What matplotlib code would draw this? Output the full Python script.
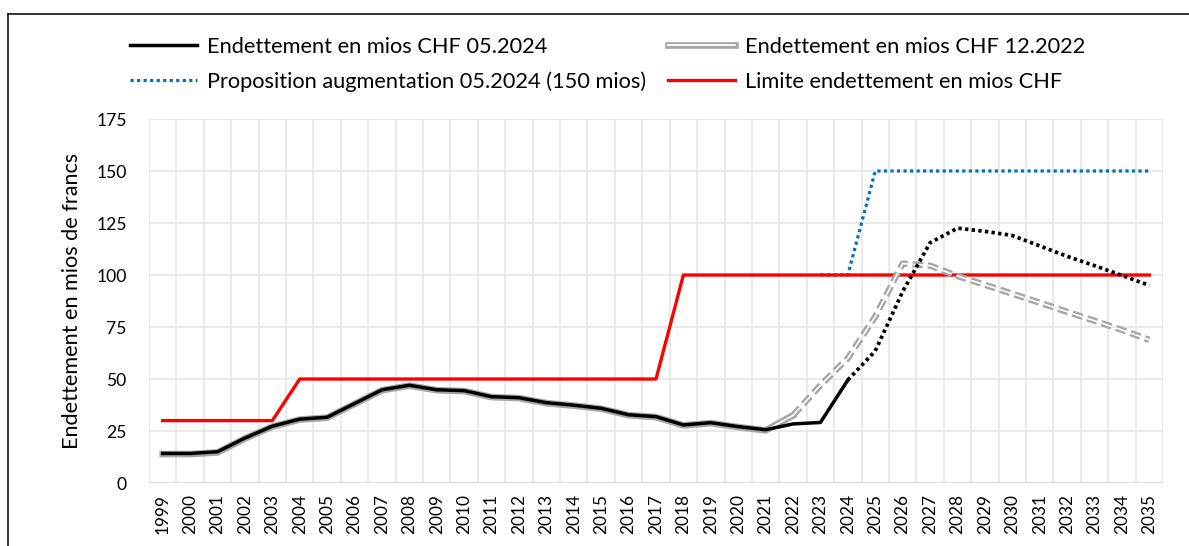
import matplotlib
matplotlib.use("Agg")
import matplotlib.pyplot as plt
from matplotlib.lines import Line2D
import numpy as np

plt.rcParams['font.family'] = ['Lato', 'DejaVu Sans']
plt.rcParams['lines.scale_dashes'] = False

years = list(range(1999, 2036))

# Endettement en mios CHF 05.2024 (actual, 1999-2024)
debt_2024_years = list(range(1999, 2025))
debt_2024 = [14.2, 14.2, 15.0, 21.6, 27.3, 30.7, 31.6, 38.2, 44.8, 47.0, 44.8, 44.4,
             41.5, 41.0, 38.6, 37.4, 35.9, 32.8, 31.9, 27.9, 29.0, 27.1, 25.6, 28.4,
             29.1, 49.5]
# projection 05.2024 (2024-2035)
proj_2024_years = list(range(2024, 2036))
proj_2024 = [49.5, 63.5, 92.0, 115.5, 122.5, 121.0, 119.0, 114.0, 109.0, 104.5, 99.8, 95.0]

# Endettement en mios CHF 12.2022
debt_2022_years = list(range(1999, 2023))
debt_2022 = [13.9, 13.9, 14.7, 21.4, 27.1, 30.5, 31.4, 38.0, 44.6, 46.8, 44.6, 44.2,
             41.3, 40.8, 38.4, 37.2, 35.7, 32.6, 31.7, 27.7, 28.8, 26.9, 25.3, 32.5]
proj_2022_years = list(range(2022, 2036))
proj_2022 = [32.5, 47.0, 60.0, 80.0, 105.5, 104.5, 99.5, 95.3, 91.0, 86.7, 82.3, 78.0, 73.6, 68.8]

# Proposition augmentation 05.2024 (150 mios)
prop_years = list(range(2023, 2036))
prop = [100, 100, 150, 150, 150, 150, 150, 150, 150, 150, 150, 150, 150]

# Limite endettement en mios CHF
limit = [30, 30, 30, 30, 30] + [50] * 14 + [100] * 18

labels = ["Endettement en mios CHF 05.2024",
          "Endettement en mios CHF 12.2022",
          "Proposition augmentation 05.2024 (150 mios)",
          "Limite endettement en mios CHF"]

def pos(ys):
    return [y - 1999 for y in ys]

W, H = 1189, 546
fig = plt.figure(figsize=(W / 100, H / 100), dpi=100)
ax = fig.add_axes([149 / W, 1 - 483 / H, (1163 - 149) / W, (483 - 119) / H])

GRAY = '#A6A6A6'
GRID = '#E6E6E6'
BLUE = '#0070C0'
RED = '#FF0000'

# blue proposal (under red)
ax.plot(pos(prop_years), prop, color=BLUE, lw=2.3, dashes=(2.3, 2.4),
        dash_capstyle='butt', zorder=2)
# red limit
ax.plot(pos(years), limit, color=RED, lw=2.4, zorder=3)
# gray double line 12.2022
ax.plot(pos(debt_2022_years), debt_2022, color=GRAY, lw=4.8, zorder=4)
ax.plot(pos(debt_2022_years), debt_2022, color='white', lw=1.2, zorder=4.1)
ax.plot(pos(proj_2022_years), proj_2022, color=GRAY, lw=4.6, dashes=(7.5, 3.5),
        dash_capstyle='butt', zorder=4)
ax.plot(pos(proj_2022_years), proj_2022, color='white', lw=1.2, dashes=(7.5, 3.5),
        dash_capstyle='butt', zorder=4.1)
# black 05.2024
ax.plot(pos(debt_2024_years), debt_2024, color='black', lw=2.5, zorder=5)
ax.plot(pos(proj_2024_years), proj_2024, color='black', lw=2.7, dashes=(2.4, 2.4),
        dash_capstyle='butt', zorder=5)

ax.set_xlim(-0.5, len(years) - 0.5)
ax.set_ylim(0, 175)
ax.set_yticks(np.arange(0, 176, 25))
ax.set_xticks(range(len(years)))
ax.set_xticklabels([str(y) for y in years], rotation=90)
ax.set_xticks(np.arange(-0.5, len(years), 1.0), minor=True)
ax.tick_params(axis='x', which='both', length=0, labelsize=12.4, pad=8)
ax.tick_params(axis='y', length=0, labelsize=12.6, pad=16)
ax.grid(axis='y', which='major', color=GRID, lw=1.2, zorder=0)
ax.grid(axis='x', which='minor', color=GRID, lw=1.2, zorder=0)
ax.grid(axis='x', which='major', visible=False)
for s in ax.spines.values():
    s.set_visible(False)
ax.axhline(0, color='#D9D9D9', lw=1.5, zorder=1)
ax.set_axisbelow(True)
ax.set_ylabel("Endettement en mios de francs", fontsize=15.6, labelpad=10)

# manual legend (figure pixel layout)
def fx(px):
    return px / W

def fy(py):
    return 1 - py / H

legend_items = [
    (130, 45, labels[0], [dict(color='black', lw=2.5)]),
    (668, 45, labels[1], [dict(color=GRAY, lw=4.8), dict(color='white', lw=1.3)]),
    (130, 80, labels[2], [dict(color=BLUE, lw=2.3, dashes=(2.3, 2.4), dash_capstyle='butt')]),
    (668, 80, labels[3], [dict(color=RED, lw=2.4)]),
]
for x0, y0, text, styles in legend_items:
    for st in styles:
        fig.add_artist(Line2D([fx(x0), fx(x0 + 67)], [fy(y0), fy(y0)],
                              transform=fig.transFigure, **st))
    fig.text(fx(x0 + 77), fy(y0), text, fontsize=15.7, va='center_baseline', ha='left')

# figure frame
fig.add_artist(Line2D([fx(8), 1.0], [fy(14)] * 2, transform=fig.transFigure,
                      color='black', lw=1.1))
fig.add_artist(Line2D([fx(8)] * 2, [0.0, fy(14)], transform=fig.transFigure,
                      color='black', lw=1.1))

fig.savefig("out.png", dpi=100)
